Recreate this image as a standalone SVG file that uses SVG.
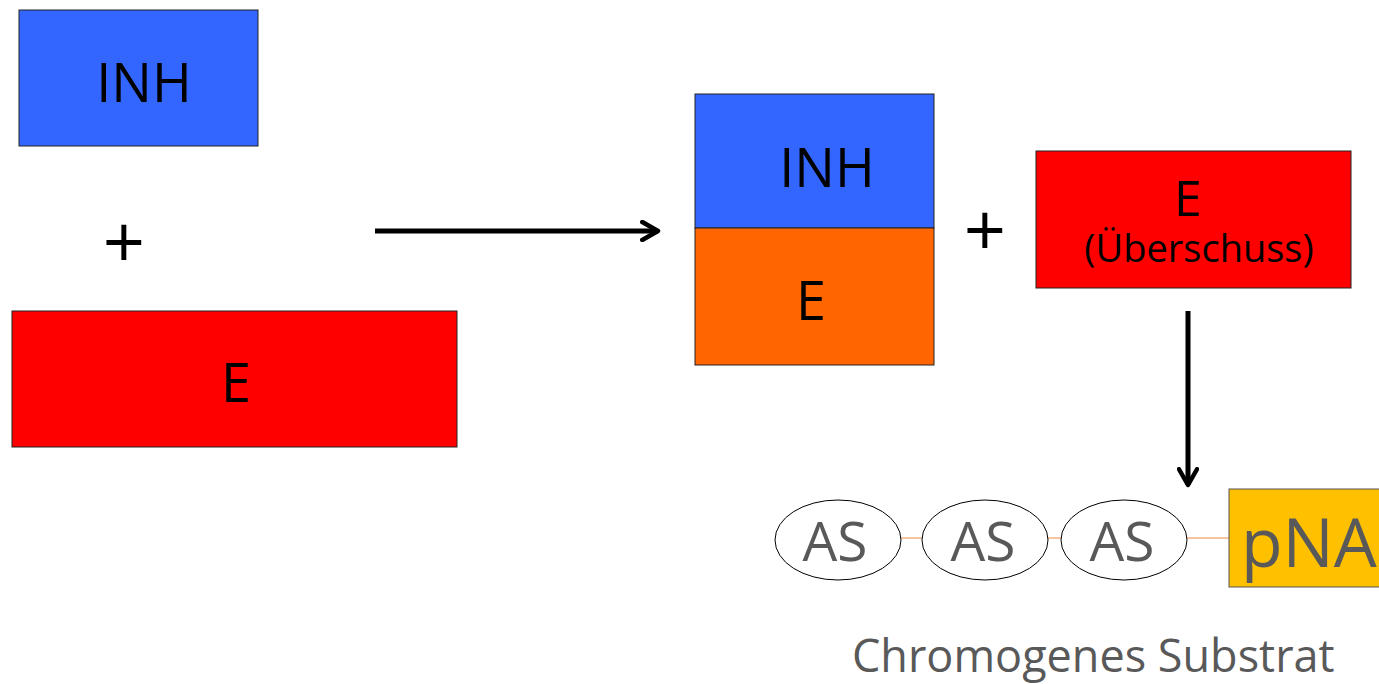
<svg xmlns="http://www.w3.org/2000/svg" width="1379" height="684" viewBox="0 0 1379 684">
<style>
.box{stroke:#222;stroke-width:1}
.t{font-family:"Open Sans","Noto Sans","Liberation Sans",sans-serif;text-anchor:middle;fill:#000}
.g{font-family:"Open Sans","Noto Sans","Liberation Sans",sans-serif;fill:#595959}
.conn{stroke:#000;stroke-width:5;fill:none}
.link{stroke:#F4B183;stroke-width:1.5}
</style>
<defs>
<marker id="ah" viewBox="0 0 10 10" refX="8" refY="5" markerWidth="4.5" markerHeight="4.5" orient="auto" markerUnits="strokeWidth">
<path d="M1,1 L8,5 L1,9" fill="none" stroke="#000" stroke-width="2" stroke-linecap="round" stroke-linejoin="round"/>
</marker>
</defs>
<rect width="1379" height="684" fill="#fff"/>
<g id="inh1"><rect class="box" x="19" y="10" width="239" height="136" fill="#3366FF"/><text class="t" x="144" y="102" font-size="54">INH</text></g>
<g id="plus1"><text class="t" x="124" y="268" font-size="74">+</text></g>
<g id="e1"><rect class="box" x="12" y="311" width="445" height="136" fill="#FF0000"/><text class="t" x="236" y="402" font-size="54">E</text></g>
<g id="complex">
<rect class="box" x="695" y="94" width="239" height="134" fill="#3366FF"/>
<rect class="box" x="695" y="228" width="239" height="137" fill="#FF6600"/>
<text class="t" x="827" y="187" font-size="54">INH</text>
<text class="t" x="811" y="320" font-size="54">E</text>
</g>
<g id="plus2"><text class="t" x="985" y="256" font-size="74">+</text></g>
<g id="e2"><rect class="box" x="1036" y="151" width="315" height="137" fill="#FF0000"/><text class="t" x="1188" y="216" font-size="50">E</text><text class="t" x="1199" y="262" font-size="38">(Überschuss)</text></g>
<g id="connectors">
<line class="conn" x1="375" y1="231" x2="658" y2="231" marker-end="url(#ah)"/>
<line class="conn" x1="1188" y1="311" x2="1188" y2="485" marker-end="url(#ah)"/>
<line class="link" x1="901" y1="538" x2="922" y2="538"/>
<line class="link" x1="1048" y1="538" x2="1061" y2="538"/>
<line class="link" x1="1187" y1="538" x2="1229" y2="538"/>
</g>
<g id="as1"><ellipse cx="838" cy="540" rx="63" ry="40" fill="#fff" stroke="#000" stroke-width="1"/><text class="g" x="835" y="561" font-size="55" text-anchor="middle">AS</text></g>
<g id="as2"><ellipse cx="985" cy="540" rx="63" ry="40" fill="#fff" stroke="#000" stroke-width="1"/><text class="g" x="983" y="561" font-size="55" text-anchor="middle">AS</text></g>
<g id="as3"><ellipse cx="1124" cy="540" rx="63" ry="40" fill="#fff" stroke="#000" stroke-width="1"/><text class="g" x="1122" y="561" font-size="55" text-anchor="middle">AS</text></g>
<g id="pna"><rect x="1229" y="489" width="160" height="98" fill="#FFC000" stroke="#555" stroke-width="1"/><text class="g" x="1241" y="567" font-size="68">pNA</text></g>
<g id="label"><text class="g" x="852" y="672" font-size="45">Chromogenes Substrat</text></g>
</svg>
